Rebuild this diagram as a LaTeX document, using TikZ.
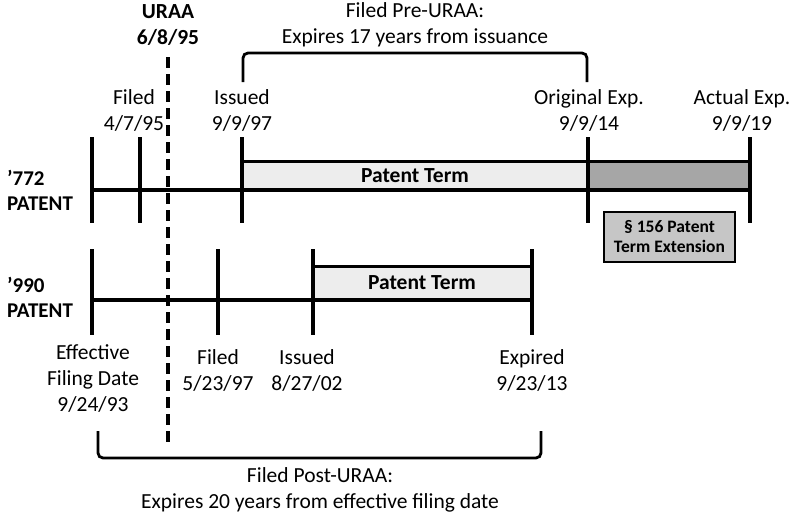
\documentclass[tikz,border=0pt]{standalone}
\usepackage{fontspec}
\setmainfont{Carlito}
\usetikzlibrary{positioning}
\definecolor{termgray}{HTML}{EDEDED}
\definecolor{extgray}{HTML}{A6A6A6}
\definecolor{boxgray}{HTML}{C6C6C6}

\begin{document}
\begin{tikzpicture}[
  x=1pt, y=-1pt,
  lbl/.style={align=center, inner sep=0pt, font=\fontsize{21.5}{26}\selectfont},
  patlbl/.style={align=left, anchor=west, inner sep=0pt, font=\bfseries\fontsize{21}{25}\selectfont},
  termlbl/.style={inner sep=0pt, font=\bfseries\fontsize{21.5}{22}\selectfont},
  tickline/.style={line width=4pt},
  axisline/.style={line width=3.4pt},
  bar/.style={draw, line width=3pt},
  bracket/.style={line width=2.8pt, rounded corners=5pt},
  extbox/.style={draw, line width=2.2pt, fill=boxgray, align=center, inner sep=0pt,
    minimum width=131pt, minimum height=50pt, font=\bfseries\fontsize{17.5}{20}\selectfont}
]
  \useasboundingbox (0,0) rectangle (800,517);

  % URAA date
  \node[lbl, font=\bfseries\fontsize{21.5}{26}\selectfont] (uraa) at (168,25) {URAA\\6/8/95};
  \draw[line width=4pt, dash pattern=on 11pt off 6pt] (168,57) -- (168,447);

  % '772 patent
  \node[patlbl] (pat772) at (7,190) {’772\\PATENT};
  \draw[bar, fill=termgray] (242,161) rectangle (588,190);
  \draw[bar, fill=extgray] (588,161) rectangle (750,190);
  \node[termlbl] (term772) at (415,176) {Patent Term};
  \draw[axisline] (92,190) -- (750,190);
  \foreach \x in {92,140,242,588,750}
    \draw[tickline] (\x,137) -- (\x,223);
  \node[lbl] (filed772) at (134,110) {Filed\\4/7/95};
  \node[lbl] (issued772) at (242,110) {Issued\\9/9/97};
  \node[lbl] (origexp) at (589,110) {Original Exp.\\9/9/14};
  \node[lbl] (actexp) at (742,110) {Actual Exp.\\9/9/19};
  \node[extbox] (ext) at (669.5,237) {§ 156 Patent\\Term Extension};

  % pre-URAA bracket
  \draw[bracket] (243,82) -- (243,53) -- (587,53) -- (587,82);
  \node[lbl] (pre) at (415,25) {Filed Pre-URAA:\\Expires 17 years from issuance};

  % '990 patent
  \node[patlbl] (pat990) at (7,297) {’990\\PATENT};
  \draw[bar, fill=termgray] (313,266) rectangle (532,300);
  \node[termlbl] (term990) at (422,283) {Patent Term};
  \draw[axisline] (92,300) -- (532,300);
  \foreach \x in {92,218,313,532}
    \draw[tickline] (\x,249) -- (\x,335);
  \node[lbl] (eff990) at (93,379) {Effective\\Filing Date\\9/24/93};
  \node[lbl] (filed990) at (218,370) {Filed\\5/23/97};
  \node[lbl] (issued990) at (307,370) {Issued\\8/27/02};
  \node[lbl] (expired990) at (532,370) {Expired\\9/23/13};

  % post-URAA bracket
  \draw[bracket] (98,431) -- (98,458) -- (541,458) -- (541,431);
  \node[lbl] (post) at (320,490) {Filed Post-URAA:\\Expires 20 years from effective filing date};
\end{tikzpicture}
\end{document}
